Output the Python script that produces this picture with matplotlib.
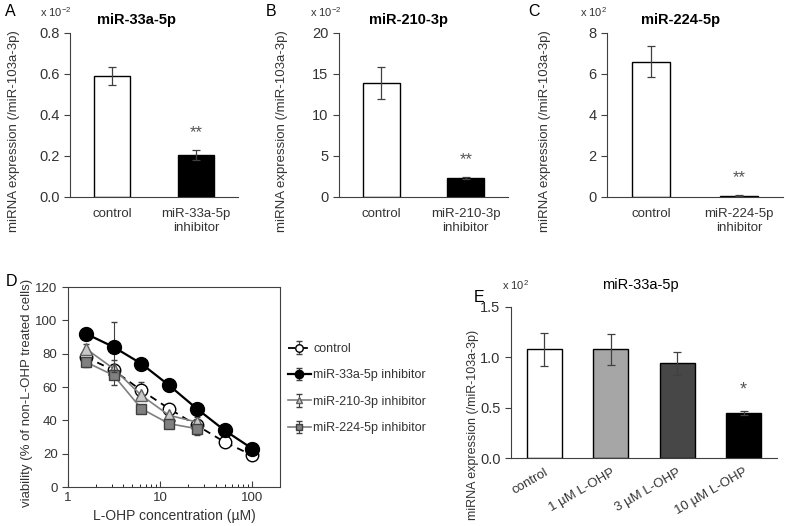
import matplotlib
matplotlib.use("Agg")
import matplotlib.pyplot as plt
import numpy as np

plt.rcParams['font.family'] = ['Liberation Sans', 'DejaVu Sans']
plt.rcParams['mathtext.fontset'] = 'custom'
plt.rcParams['mathtext.rm'] = 'Liberation Sans'

# panels A-C: inhibitor knockdown
titles_abc = ['miR-33a-5p', 'miR-210-3p', 'miR-224-5p']
cats_abc = [['control', 'miR-33a-5p\ninhibitor'],
            ['control', 'miR-210-3p\ninhibitor'],
            ['control', 'miR-224-5p\ninhibitor']]
vals_abc = [[0.59, 0.205], [13.9, 2.3], [6.6, 0.07]]
errs_abc = [[0.045, 0.025], [2.0, 0.15], [0.75, 0.02]]
ymax_abc = [0.8, 20, 8]
yticks_abc = [[0.0, 0.2, 0.4, 0.6, 0.8], [0, 5, 10, 15, 20], [0, 2, 4, 6, 8]]
ytl_abc = [['0.0', '0.2', '0.4', '0.6', '0.8'], ['0', '5', '10', '15', '20'], ['0', '2', '4', '6', '8']]
scale_txt = [r'x 10$^{-2}$', r'x 10$^{-2}$', r'x 10$^{2}$']

# panel D: viability curves
conc = [1.5625, 3.125, 6.25, 12.5, 25, 50, 100]
ctrl = [78, 70, 58, 47, 37, 27, 19]
ctrl_err = [3, 4, 5, 3, 3, 2, 2]
inh33 = [92, 84, 74, 61, 47, 34, 23]
inh33_err = [2, 15, 2, 2, 2, 2, 3]
inh210 = [83, 71, 55, 43, 39]
inh210_err = [3, 5, 3, 3, 3]
inh224 = [75, 67, 47, 38, 35]
inh224_err = [3, 6, 2, 2, 4]

# panel E: L-OHP treatment
cats_e = ['control', '1 µM L-OHP', '3 µM L-OHP', '10 µM L-OHP']
vals_e = [1.08, 1.08, 0.94, 0.45]
errs_e = [0.165, 0.155, 0.115, 0.02]
colors_e = ['white', '#a6a6a6', '#474747', 'black']

fig = plt.figure(figsize=(7.86, 5.26), dpi=100)
W, H = 786, 526


def box(l, t, r, b):
    return [l / W, 1 - b / H, (r - l) / W, (b - t) / H]


ecol = '#404040'
boxes_abc = [box(70, 33, 238, 197), box(339, 33, 508, 197), box(607, 33, 783, 197)]
title_x = [137, 409, 681]
letters = ['A', 'B', 'C']
letter_x = [5, 266, 528]
scale_x = [40, 310, 580]
ylab_x = [-0.30, -0.30, -0.32]

for i in range(3):
    ax = fig.add_axes(boxes_abc[i])
    x = np.arange(2)
    ax.bar(x, vals_abc[i], width=0.44, color=['white', 'black'], edgecolor='black', linewidth=1.0,
           yerr=errs_abc[i], error_kw=dict(ecolor=ecol, elinewidth=0.9, capsize=3, capthick=0.9))
    ax.set_xlim(-0.5, 1.5)
    ax.set_ylim(0, ymax_abc[i])
    ax.set_yticks(yticks_abc[i])
    ax.set_yticklabels(ytl_abc[i], fontsize=10.5, color='#333333')
    ax.set_xticks(x)
    ax.set_xticklabels(cats_abc[i], fontsize=9.5, color='#333333')
    ax.tick_params(axis='x', length=0, pad=8)
    ax.tick_params(axis='y', length=4, color='#404040', direction='out')
    for s in ['top', 'right']:
        ax.spines[s].set_visible(False)
    for s in ['left', 'bottom']:
        ax.spines[s].set_color('#404040')
    ax.set_ylabel('miRNA expression (/miR-103a-3p)', fontsize=9.5, color='#333333')
    ax.yaxis.set_label_coords(ylab_x[i], 0.4)
    star_y = vals_abc[i][1] + errs_abc[i][1] + ymax_abc[i] * 0.06
    ax.text(1, star_y, '**', ha='center', va='bottom', fontsize=12, color='#555555')
    fig.text(title_x[i] / W, 1 - 20 / H, titles_abc[i], ha='center', va='center',
             fontsize=10.5, fontweight='bold')
    fig.text(letter_x[i] / W, 1 - 11 / H, letters[i], ha='left', va='center', fontsize=11.5)
    fig.text(scale_x[i] / W, 1 - 12 / H, scale_txt[i], ha='left', va='center', fontsize=8,
             color='#333333')

# panel D
axd = fig.add_axes(box(68, 287, 280, 487))
axd.errorbar(conc, ctrl, yerr=ctrl_err, color='black', linestyle=(0, (4, 3)), linewidth=1.3,
             marker='o', markersize=9, markerfacecolor='white', markeredgecolor='black',
             markeredgewidth=1.0, ecolor=ecol, elinewidth=0.8, capsize=2.5, label='control', zorder=3)
axd.errorbar(conc, inh33, yerr=inh33_err, color='black', linewidth=1.6,
             marker='o', markersize=10, markerfacecolor='black', markeredgecolor='black',
             ecolor=ecol, elinewidth=0.8, capsize=2.5, label='miR-33a-5p inhibitor', zorder=4)
axd.errorbar(conc[:5], inh210, yerr=inh210_err, color='#7f7f7f', linewidth=1.2,
             marker='^', markersize=8, markerfacecolor='#c8c8c8', markeredgecolor='#606060',
             ecolor=ecol, elinewidth=0.8, capsize=2.5, label='miR-210-3p inhibitor', zorder=3)
axd.errorbar(conc[:5], inh224, yerr=inh224_err, color='#7f7f7f', linewidth=1.2,
             marker='s', markersize=7.5, markerfacecolor='#808080', markeredgecolor='#404040',
             ecolor=ecol, elinewidth=0.8, capsize=2.5, label='miR-224-5p inhibitor', zorder=3)
axd.set_xscale('log')
axd.set_xlim(1, 200)
axd.set_ylim(0, 120)
axd.set_yticks(np.arange(0, 121, 20))
axd.set_xticks([1, 10, 100])
axd.set_xticklabels(['1', '10', '100'])
axd.tick_params(axis='both', labelsize=9.5, labelcolor='#333333', color='#404040')
axd.tick_params(axis='x', which='both', direction='in')
axd.tick_params(axis='x', which='major', length=4)
axd.tick_params(axis='x', which='minor', length=2.5)
axd.tick_params(axis='y', direction='out', length=4)
for s in axd.spines.values():
    s.set_color('#404040')
axd.set_xlabel('L-OHP concentration (µM)', fontsize=10, color='#333333', labelpad=4)
axd.set_ylabel('viability (% of non-L-OHP treated cells)', fontsize=9.5, color='#333333')
axd.yaxis.set_label_coords(-0.165, 0.47)
fig.text(6 / W, 1 - 281 / H, 'D', ha='left', va='center', fontsize=11.5)
leg = fig.legend(*axd.get_legend_handles_labels(), loc='upper left',
                 bbox_to_anchor=(283 / W, 1 - 338 / H), frameon=False, fontsize=9,
                 handlelength=1.8, handletextpad=0.2, labelspacing=1.15, borderaxespad=0,
                 markerscale=0.6, labelcolor='#333333')

# panel E
axe = fig.add_axes(box(511, 307, 777, 458))
xe = np.arange(4)
axe.bar(xe, vals_e, width=0.52, color=colors_e, edgecolor='black', linewidth=1.0,
        yerr=errs_e, error_kw=dict(ecolor=ecol, elinewidth=0.9, capsize=3, capthick=0.9))
axe.set_xlim(-0.5, 3.5)
axe.set_ylim(0, 1.5)
axe.set_yticks([0.0, 0.5, 1.0, 1.5])
axe.set_yticklabels(['0.0', '0.5', '1.0', '1.5'], fontsize=10.5, color='#333333')
axe.set_xticks(xe)
axe.set_xticklabels(cats_e, fontsize=9.5, rotation=30, ha='right', rotation_mode='anchor',
                    color='#333333')
axe.tick_params(axis='x', length=0, pad=6)
axe.tick_params(axis='y', length=4, color='#404040', direction='out')
for s in ['top', 'right']:
    axe.spines[s].set_visible(False)
for s in ['left', 'bottom']:
    axe.spines[s].set_color('#404040')
axe.set_ylabel('miRNA expression (/miR-103a-3p)', fontsize=9, color='#333333')
axe.yaxis.set_label_coords(-0.12, 0.22)
axe.text(3, vals_e[3] + errs_e[3] + 0.12, '*', ha='center', va='bottom', fontsize=13, color='#555555')
fig.text(640 / W, 1 - 285 / H, 'miR-33a-5p', ha='center', va='center', fontsize=10.5)
fig.text(502 / W, 1 - 285 / H, r'x 10$^{2}$', ha='left', va='center', fontsize=8, color='#333333')
fig.text(474 / W, 1 - 297 / H, 'E', ha='left', va='center', fontsize=11.5)

fig.savefig('out.png', dpi=100)
